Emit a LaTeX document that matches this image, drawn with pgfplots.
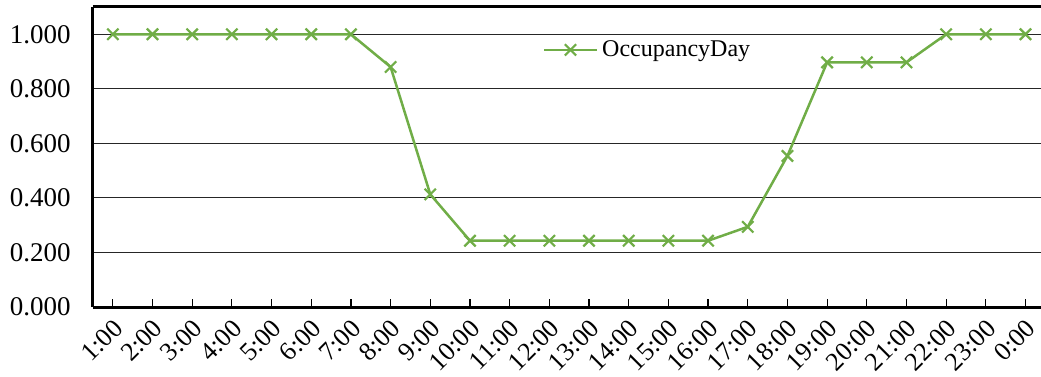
\documentclass[border=0pt]{standalone}
\usepackage{fontspec}
\setmainfont{Liberation Serif}
\usepackage{pgfplots}
\pgfplotsset{compat=1.18}
\definecolor{exgreen}{RGB}{112,173,71}
\begin{document}
\fontsize{12bp}{14bp}\selectfont
\begin{tikzpicture}
\begin{axis}[
  at={(0,0)}, anchor=south west,
  scale only axis, width=474bp, height=150bp,
  xmin=0.5, xmax=24.39, ymin=0, ymax=1.1,
  axis x line*=box, axis y line*=left,
  axis line style={line width=1.5bp, black},
  xtick={1,...,24},
  xticklabels={1:00,2:00,3:00,4:00,5:00,6:00,7:00,8:00,9:00,10:00,11:00,12:00,13:00,14:00,15:00,16:00,17:00,18:00,19:00,20:00,21:00,22:00,23:00,0:00},
  x tick label style={rotate=45, anchor=east, xshift=0bp, yshift=-8bp, font=\fontsize{13bp}{15bp}\selectfont},
  ytick={0,0.2,0.4,0.6,0.8,1.0},
  y tick label style={font=\fontsize{13.5bp}{15bp}\selectfont, xshift=-7bp},
  /pgf/number format/fixed, /pgf/number format/fixed zerofill, /pgf/number format/precision=3, /pgf/number format/assume math mode=true,
  tick align=inside,
  xtick pos=bottom,
  major tick length=4bp,
  x tick style={line width=0.6bp, black},
  y tick style={draw=none},
  ymajorgrids,
  grid style={line width=0.5bp, black!85},
  legend style={at={(0.474,0.857)}, anchor=west, draw=none, fill=none, font=\fontsize{12bp}{14bp}\selectfont, inner sep=0pt},
  legend image code/.code={\draw[mark repeat=2, mark phase=2] plot coordinates {(0bp,0bp) (13.25bp,0bp) (26.5bp,0bp)};},
]
\addplot[color=exgreen, line width=1.25bp, mark=x, mark size=4bp, mark options={line width=1.1bp}]
coordinates {
(1,1.000) (2,1.000) (3,1.000) (4,1.000) (5,1.000) (6,1.000) (7,1.000)
(8,0.880) (9,0.413) (10,0.243) (11,0.243) (12,0.243) (13,0.243) (14,0.243)
(15,0.243) (16,0.243) (17,0.294) (18,0.554) (19,0.897) (20,0.897) (21,0.897)
(22,1.000) (23,1.000) (24,1.000)
};
\addlegendentry{OccupancyDay}
\end{axis}
\pgfresetboundingbox
\path (-46.5bp,-35bp) rectangle (474bp,153.5bp);
\end{tikzpicture}
\end{document}
